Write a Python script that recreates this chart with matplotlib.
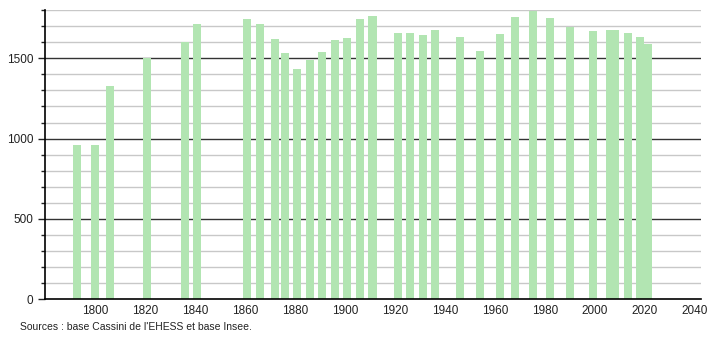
import matplotlib
matplotlib.use("Agg")
import matplotlib.pyplot as plt
from matplotlib.ticker import MultipleLocator

plt.rcParams['font.family'] = ['Liberation Sans', 'DejaVu Sans']

years = [1793, 1800, 1806, 1821, 1836, 1841, 1861, 1866, 1872, 1876, 1881, 1886,
         1891, 1896, 1901, 1906, 1911, 1921, 1926, 1931, 1936, 1946, 1954, 1962,
         1968, 1975, 1982, 1990, 1999, 2006, 2008, 2013, 2018, 2021]
population = [958, 958, 1325, 1500, 1600, 1714, 1746, 1714, 1621, 1533, 1433, 1489,
              1539, 1614, 1627, 1746, 1764, 1658, 1658, 1646, 1677, 1633, 1546, 1652,
              1758, 1792, 1752, 1696, 1671, 1677, 1677, 1658, 1633, 1589]
x_ticks = [1800, 1820, 1840, 1860, 1880, 1900, 1920, 1940, 1960, 1980, 2000, 2020, 2040]
y_ticks = [0, 500, 1000, 1500]
source_text = "Sources : base Cassini de l'EHESS et base Insee."

fig = plt.figure(figsize=(7.1, 3.4), dpi=100)
ax = fig.add_axes([0.063, 0.1197, 0.924, 0.8506])

for v in range(100, 1900, 100):
    if v % 500 == 0:
        ax.axhline(v, color='#333333', lw=1.0, zorder=1)
    else:
        ax.axhline(v, color='#c8c8c8', lw=1.0, zorder=1)

ax.bar(years, population, width=3.2, color='#b2e5b2', zorder=2, linewidth=0)

ax.set_xlim(1779.9, 2042.3)
ax.set_ylim(0, 1800)
ax.set_xticks(x_ticks)
ax.set_yticks(y_ticks)
ax.yaxis.set_minor_locator(MultipleLocator(100))
ax.tick_params(axis='x', length=0, labelsize=8.5, pad=4, colors='#222222')
ax.tick_params(axis='y', which='major', length=5, width=1, labelsize=8.5, pad=3, colors='#222222')
ax.tick_params(axis='y', which='minor', length=3, width=1, colors='#222222')
for s in ['top', 'right']:
    ax.spines[s].set_visible(False)
for s in ['left', 'bottom']:
    ax.spines[s].set_color('black')
    ax.spines[s].set_linewidth(1.2)

fig.text(20 / 710, 1 - 327 / 340, source_text, fontsize=7.5, va='center', ha='left', color='#222222')

fig.savefig('out.png', dpi=100)
